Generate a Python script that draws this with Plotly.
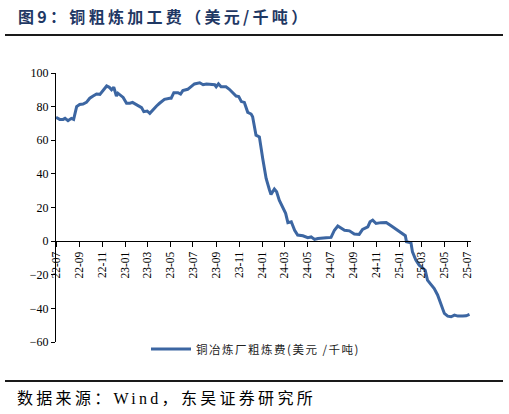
import plotly.graph_objects as go

# weekly copper TC/RC readings (USD/t)
dates = [
    '2022-07-01', '2022-07-11', '2022-07-20', '2022-07-25', '2022-08-02', '2022-08-11', '2022-08-17',
    '2022-08-25', '2022-09-02', '2022-09-11', '2022-09-20', '2022-09-29', '2022-10-08', '2022-10-17',
    '2022-10-26', '2022-11-04', '2022-11-13', '2022-11-20', '2022-11-26', '2022-12-02', '2022-12-09',
    '2022-12-13', '2022-12-20', '2022-12-27', '2023-01-05', '2023-01-14', '2023-01-21', '2023-01-30',
    '2023-02-08', '2023-02-14', '2023-02-20', '2023-03-01', '2023-03-08', '2023-03-17', '2023-03-26',
    '2023-04-03', '2023-04-16', '2023-04-30', '2023-05-04', '2023-05-11', '2023-05-22', '2023-05-29',
    '2023-06-04', '2023-06-17', '2023-06-26', '2023-07-05', '2023-07-19', '2023-07-28', '2023-08-06',
    '2023-08-19', '2023-08-28', '2023-09-01', '2023-09-07', '2023-09-14', '2023-09-27', '2023-10-06',
    '2023-10-15', '2023-10-24', '2023-10-31', '2023-11-07', '2023-11-15', '2023-11-24', '2023-12-03',
    '2023-12-07', '2023-12-16', '2023-12-25', '2024-01-03', '2024-01-12', '2024-01-21', '2024-01-25',
    '2024-02-03', '2024-02-09', '2024-02-16', '2024-02-25', '2024-03-04', '2024-03-10', '2024-03-19',
    '2024-03-28', '2024-04-05', '2024-04-19', '2024-05-02', '2024-05-11', '2024-05-20', '2024-05-29',
    '2024-06-11', '2024-06-20', '2024-07-03', '2024-07-12', '2024-07-21', '2024-07-30', '2024-08-08',
    '2024-08-21', '2024-09-03', '2024-09-16', '2024-09-25', '2024-10-09', '2024-10-15', '2024-10-22',
    '2024-10-31', '2024-11-13', '2024-11-27', '2024-12-10', '2024-12-23', '2025-01-05', '2025-01-17',
    '2025-01-20', '2025-02-01', '2025-02-05', '2025-02-14', '2025-02-23', '2025-03-04', '2025-03-11',
    '2025-03-17', '2025-03-26', '2025-04-04', '2025-04-13', '2025-04-22', '2025-05-01', '2025-05-10',
    '2025-05-19', '2025-05-28', '2025-06-06', '2025-06-19', '2025-06-28', '2025-07-07',
]
tc_rc = [
    73.6, 72.4, 72.4, 73.0, 71.6, 73.0, 72.4,
    80.0, 81.3, 81.5, 82.5, 85.0, 86.3, 87.5,
    87.3, 89.5, 92.3, 91.5, 90.0, 91.5, 86.3,
    88.0, 87.0, 85.5, 82.0, 82.0, 82.5, 81.2,
    80.4, 79.4, 77.0, 77.4, 76.0, 78.4, 80.4,
    82.0, 84.3, 85.0, 85.0, 88.3, 88.3, 87.5,
    89.5, 90.3, 91.8, 93.5, 94.2, 93.0, 93.5,
    93.0, 93.0, 91.8, 93.5, 91.8, 91.8, 90.3,
    88.3, 86.3, 86.0, 83.0, 82.5, 76.6, 75.6,
    74.0, 63.0, 62.0, 49.0, 37.3, 30.4, 27.8,
    31.0, 29.4, 24.4, 19.8, 16.5, 11.0, 11.5,
    6.5, 3.6, 3.2, 2.0, 2.5, 1.0, 1.6,
    1.6, 2.0, 2.2, 6.5, 9.0, 7.5, 6.5,
    6.1, 4.2, 4.0, 7.0, 8.5, 11.5, 12.5,
    10.5, 11.0, 11.1, 9.1, 7.0, 4.6, 3.2,
    -0.4, -1.0, -6.4, -11.3, -14.3, -16.3, -17.3,
    -23.2, -26.0, -28.2, -32.0, -38.0, -43.0, -44.6,
    -45.0, -44.0, -44.6, -44.6, -44.4, -43.6,
]

series_name = '铜冶炼厂粗炼费(美元 /千吨)'
title = '图9：铜粗炼加工费（美元/千吨）'
source = '数据来源：Wind，东吴证券研究所'

SERIF = 'Liberation Serif, Noto Sans CJK SC'
CJK = 'Noto Sans CJK SC'
W, H = 509, 414
L, R, T, B = 56, 38, 73, 72
pw, ph = W - L - R, H - T - B


def px(x):
    return (x - L) / pw


def py(y):
    return (H - B - y) / ph


def spaced(s, ls):
    return f'<span style="letter-spacing:{ls}px">{s}</span>'


fig = go.Figure()
fig.add_trace(go.Scatter(
    x=dates, y=tc_rc,
    mode='lines',
    name=spaced(series_name, 1.5),
    line=dict(color='#3C66A2', width=3),
))

fig.update_layout(
    width=W, height=H,
    margin=dict(l=L, r=R, t=T, b=B),
    plot_bgcolor='white',
    paper_bgcolor='white',
    font=dict(family=SERIF, size=12, color='black'),
    showlegend=True,
    legend=dict(
        orientation='h',
        x=px(146), xanchor='left',
        y=py(349), yanchor='middle',
        itemwidth=40,
        font=dict(family=CJK, size=11.5, color='#222222'),
        bgcolor='rgba(0,0,0,0)',
    ),
)

fig.update_xaxes(
    type='date',
    range=['2022-07-01', '2025-07-11'],
    tick0='2022-07-01', dtick='M2',
    tickformat='%y-%m',
    tickangle=-90,
    ticks='outside', ticklen=5, tickcolor='black',
    showline=True, linecolor='black', linewidth=1,
    showgrid=False, zeroline=False, automargin=False,
    anchor='free', position=60 / 160,
    tickfont=dict(family=SERIF, size=11.5, color='black'),
)
fig.update_yaxes(
    range=[-60, 100],
    dtick=20,
    ticks='outside', ticklen=4, tickcolor='black',
    showline=True, linecolor='black', linewidth=1,
    showgrid=False, zeroline=False, automargin=False,
    tickfont=dict(family=SERIF, size=12, color='black'),
)

fig.add_annotation(
    text='<b>' + spaced(title, 3.3) + '</b>',
    xref='paper', yref='paper',
    x=px(16), y=py(16),
    xanchor='left', yanchor='middle',
    showarrow=False,
    font=dict(family=CJK, size=16, color='#1F3864'),
)
fig.add_annotation(
    text=spaced(source, 3.3),
    xref='paper', yref='paper',
    x=px(15), y=py(398),
    xanchor='left', yanchor='middle',
    showarrow=False,
    font=dict(family=SERIF, size=16, color='black'),
)
# rules under the title and above the source line
for yy in (35, 381):
    fig.add_shape(
        type='line',
        xref='paper', yref='paper',
        x0=px(5), x1=px(503), y0=py(yy), y1=py(yy),
        line=dict(color='#1A1A1A', width=2),
    )

fig.write_html('out.html', config={'displayModeBar': False},
               post_script="document.body.style.margin='0px';")
